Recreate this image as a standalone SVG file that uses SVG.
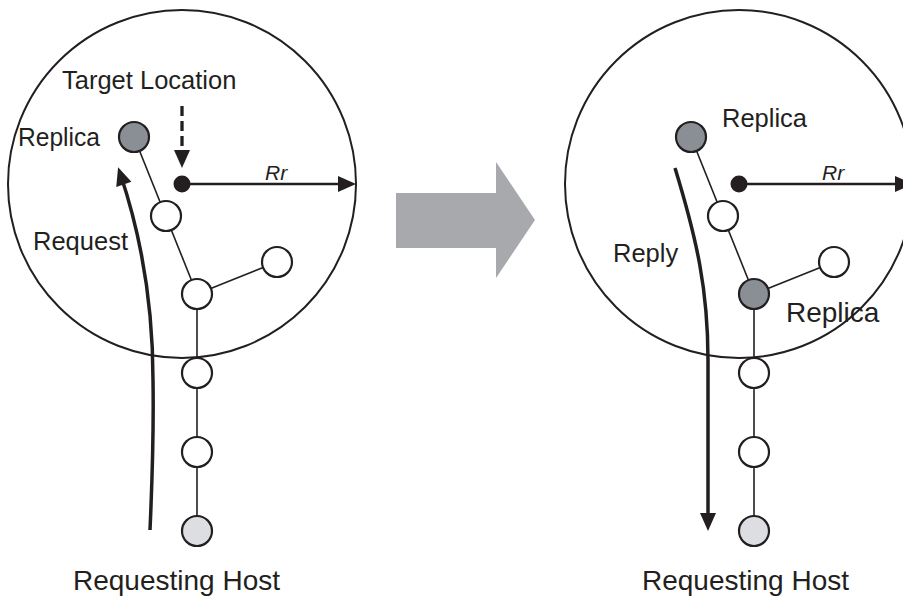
<svg xmlns="http://www.w3.org/2000/svg" width="903" height="596" viewBox="0 0 903 596">
  <style>
    .zone { fill: none; stroke: #231f20; stroke-width: 2; }
    .edge { stroke: #231f20; stroke-width: 1.6; fill: none; }
    .node { stroke: #231f20; stroke-width: 2.2; fill: #ffffff; }
    .replica { fill: #8a8f95; }
    .host { fill: #dcdee2; }
    .flow { stroke: #231f20; stroke-width: 3.5; fill: none; }
    .radius { stroke: #231f20; stroke-width: 2.5; fill: none; }
    .target { stroke: #231f20; stroke-width: 3.3; stroke-dasharray: 10 5; fill: none; }
    .lbl { font-family: "Liberation Sans", Arial, sans-serif; fill: #231f20; }
    .big { font-size: 28px; }
    .mid { font-size: 25.5px; }
    .it { font-size: 21px; font-style: italic; }
  </style>
  <defs>
    <marker id="head" markerUnits="userSpaceOnUse" markerWidth="18" markerHeight="16" refX="12" refY="8" orient="auto" overflow="visible">
      <path d="M0,0 L18,8 L0,16 z" fill="#231f20"/>
    </marker>
  </defs>

  <rect width="903" height="596" fill="#ffffff"/>

  <!-- search zones -->
  <circle class="zone" cx="182" cy="184" r="174"/>
  <circle class="zone" cx="739" cy="184" r="174"/>

  <!-- transition arrow between the two stages -->
  <polygon points="396,193 496,193 496,162 535,220 496,278 496,248 396,248" fill="#a7a9ac"/>

  <g id="connectors">
    <!-- overlay links, left stage -->
    <line class="edge" x1="134" y1="137" x2="197" y2="294"/>
    <line class="edge" x1="197" y1="294" x2="277" y2="262"/>
    <line class="edge" x1="197" y1="294" x2="197" y2="531"/>
    <!-- overlay links, right stage -->
    <line class="edge" x1="691" y1="137" x2="754" y2="294"/>
    <line class="edge" x1="754" y1="294" x2="834" y2="262"/>
    <line class="edge" x1="754" y1="294" x2="754" y2="531"/>
    <!-- radius arrows -->
    <line class="radius" x1="182" y1="184" x2="350" y2="184" marker-end="url(#head)"/>
    <line class="radius" x1="739" y1="184" x2="907" y2="184" marker-end="url(#head)"/>
    <!-- target location pointer -->
    <line class="target" x1="182" y1="106" x2="182" y2="162" marker-end="url(#head)"/>
    <!-- request path -->
    <path class="flow" d="M150,530 Q154,440 153,380 C153,320 146,250 120,173" marker-end="url(#head)"/>
    <!-- reply path -->
    <path class="flow" d="M675,168 C697,240 708,290 708,360 L708,525" marker-end="url(#head)"/>
  </g>

  <g id="left-stage">
    <g id="target-left"><circle cx="182" cy="184" r="8.5" fill="#231f20"/></g>
    <g id="replica-left"><circle class="node replica" cx="134" cy="137" r="15"/></g>
    <g id="n1-left"><circle class="node" cx="166" cy="216" r="15"/></g>
    <g id="n2-left"><circle class="node" cx="197" cy="294" r="15"/></g>
    <g id="side-left"><circle class="node" cx="277" cy="262" r="15"/></g>
    <g id="n3-left"><circle class="node" cx="197" cy="373" r="15"/></g>
    <g id="n4-left"><circle class="node" cx="197" cy="452" r="15"/></g>
    <g id="host-left"><circle class="node host" cx="197" cy="531" r="15"/></g>
  </g>

  <g id="right-stage">
    <g id="target-right"><circle cx="739" cy="184" r="8.5" fill="#231f20"/></g>
    <g id="replica-right"><circle class="node replica" cx="691" cy="137" r="15"/></g>
    <g id="n1-right"><circle class="node" cx="723" cy="216" r="15"/></g>
    <g id="n2-right"><circle class="node replica" cx="754" cy="294" r="15"/></g>
    <g id="side-right"><circle class="node" cx="834" cy="262" r="15"/></g>
    <g id="n3-right"><circle class="node" cx="754" cy="373" r="15"/></g>
    <g id="n4-right"><circle class="node" cx="754" cy="452" r="15"/></g>
    <g id="host-right"><circle class="node host" cx="754" cy="531" r="15"/></g>
  </g>

  <g id="labels">
    <text class="lbl mid" x="62" y="89">Target Location</text>
    <text class="lbl mid" x="18" y="146" textLength="82" lengthAdjust="spacingAndGlyphs">Replica</text>
    <text class="lbl mid" x="33" y="250">Request</text>
    <text class="lbl it" x="265" y="180">Rr</text>
    <text class="lbl big" x="73" y="590">Requesting Host</text>

    <text class="lbl mid" x="722" y="127">Replica</text>
    <text class="lbl mid" x="613" y="262">Reply</text>
    <text class="lbl it" x="822" y="180">Rr</text>
    <text class="lbl big" x="786" y="322">Replica</text>
    <text class="lbl big" x="642" y="590">Requesting Host</text>
  </g>
</svg>
